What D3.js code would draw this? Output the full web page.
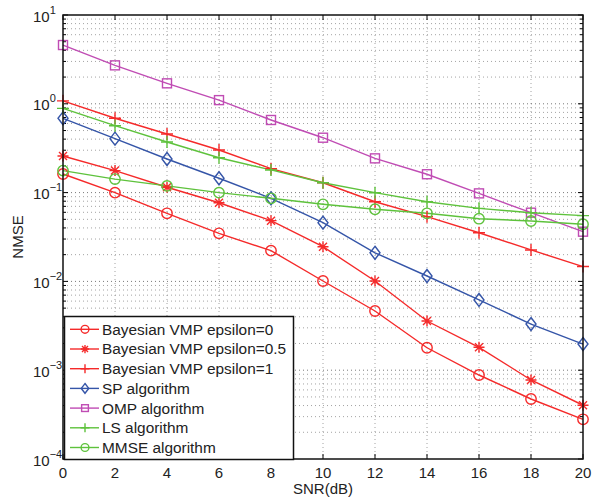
<!DOCTYPE html>
<html><head><meta charset="utf-8">
<script src="https://cdn.jsdelivr.net/npm/d3@7"></script>
<style>body{margin:0;background:#fff}svg{display:block;font-family:"Liberation Sans",Arial,sans-serif}</style>
</head><body><svg id="c" width="599" height="497"></svg>
<script>
const snr = [0,2,4,6,8,10,12,14,16,18,20];
const xTicks = [0,2,4,6,8,10,12,14,16,18,20];
const yDecades = [-4,-3,-2,-1,0,1];
const seriesNames = ["Bayesian VMP epsilon=0","Bayesian VMP epsilon=0.5","Bayesian VMP epsilon=1","SP algorithm","OMP algorithm","LS algorithm","MMSE algorithm"];
const vmp0   = [0.162,0.0998,0.0585,0.0348,0.0222,0.0101,0.00464,0.00179,0.000883,0.000474,0.000280];
const vmp05  = [0.258,0.177,0.115,0.0769,0.0483,0.0246,0.0101,0.00358,0.00181,0.000776,0.000403];
const vmp1   = [1.08,0.687,0.457,0.302,0.186,0.129,0.0789,0.0536,0.0353,0.0226,0.0147];
const sp     = [0.687,0.405,0.239,0.145,0.0863,0.0458,0.0210,0.0115,0.00618,0.00331,0.00197];
const omp    = [4.59,2.71,1.70,1.10,0.657,0.415,0.243,0.161,0.098,0.0594,0.0363];
const ls     = [0.889,0.567,0.371,0.247,0.180,0.129,0.0998,0.0789,0.0665,0.0594,0.0550];
const mmse   = [0.177,0.142,0.119,0.0998,0.0863,0.0738,0.0649,0.0585,0.0508,0.0479,0.0440];
const seriesValues = [vmp0,vmp05,vmp1,sp,omp,ls,mmse];
const colors = ["#f52a2a","#f52a2a","#f52a2a","#3555a8","#c04cb4","#5ec23c","#5ec23c"];
const markers = ["circle","asterisk","plus","diamond","square","plus","circle"];

const svg = d3.select("#c");
const L=63,R=583,T=15,B=459;
const x = d3.scaleLinear().domain([0,20]).range([L,R]);
const y = d3.scaleLog().domain([1e-4,10]).range([B,T]);

// grid
const g = svg.append("g");
xTicks.forEach(t=>{ if(t>0&&t<20) g.append("line").attr("x1",x(t)).attr("x2",x(t)).attr("y1",T).attr("y2",B)
  .attr("stroke","#8c8c8c").attr("stroke-width",0.8).attr("stroke-dasharray","1,3"); });
const minorVals=[];
for(let d=-4; d<1; d++){ for(let k=1;k<10;k++){ const v=k*Math.pow(10,d); minorVals.push({v,major:k===1}); } }
minorVals.forEach(o=>{ if(o.v>1e-4) g.append("line").attr("x1",L).attr("x2",R).attr("y1",y(o.v)).attr("y2",y(o.v))
  .attr("stroke",o.major?"#555":"#8c8c8c").attr("stroke-width",0.8).attr("stroke-dasharray","1,3"); });

// ticks
const tk = svg.append("g").attr("stroke","#000").attr("stroke-width",1);
xTicks.forEach(t=>{ tk.append("line").attr("x1",x(t)).attr("x2",x(t)).attr("y1",B).attr("y2",B-5);
  tk.append("line").attr("x1",x(t)).attr("x2",x(t)).attr("y1",T).attr("y2",T+5); });
minorVals.forEach(o=>{ const len=o.major?5:3; const yy=y(o.v);
  tk.append("line").attr("x1",L).attr("x2",L+len).attr("y1",yy).attr("y2",yy);
  tk.append("line").attr("x1",R).attr("x2",R-len).attr("y1",yy).attr("y2",yy); });
tk.append("line").attr("x1",L).attr("x2",L+5).attr("y1",y(10)).attr("y2",y(10));
tk.append("line").attr("x1",R).attr("x2",R-5).attr("y1",y(10)).attr("y2",y(10));

// x tick labels
xTicks.forEach(t=>{ svg.append("text").attr("x",x(t)).attr("y",478).attr("text-anchor","middle")
  .attr("font-size",15).attr("fill","#222").text(t); });
// y tick labels
yDecades.forEach(d=>{ const yy=y(Math.pow(10,d));
  const tx=svg.append("text").attr("x",33).attr("y",yy+6.5).attr("font-size",15).attr("fill","#222");
  tx.append("tspan").text("10");
  tx.append("tspan").attr("dy",-8).attr("font-size",11).text(d<0?"\u2212"+(-d):String(d)); });

// axis labels
svg.append("text").attr("x",(L+R)/2).attr("y",494).attr("text-anchor","middle").attr("font-size",15).attr("fill","#222").text("SNR(dB)");
svg.append("text").attr("transform","translate(23,237) rotate(-90)").attr("text-anchor","middle").attr("font-size",15).attr("fill","#222").text("NMSE");

function drawMarker(sel, type, cx, cy, col, s){
  s = s||1;
  const m = sel.append("g").attr("transform",`translate(${cx},${cy}) scale(${s})`).attr("fill","none").attr("stroke",col).attr("stroke-width",1.4/s);
  if(type==="circle") m.append("circle").attr("r",5.2);
  else if(type==="square") m.append("rect").attr("x",-4.5).attr("y",-4.5).attr("width",9).attr("height",9);
  else if(type==="diamond") m.append("path").attr("d","M0,-6.5L5,0L0,6.5L-5,0Z");
  else if(type==="plus") m.append("path").attr("d","M-6,0H6M0,-6V6");
  else if(type==="asterisk") m.append("path").attr("d","M-5.5,0H5.5M0,-5.5V5.5M-4,-4L4,4M-4,4L4,-4");
}

// lines
const line = d3.line().x((d,i)=>x(snr[i])).y(d=>y(d));
const plot = svg.append("g");
seriesValues.forEach((vals,si)=>{
  plot.append("path").attr("d",line(vals)).attr("fill","none").attr("stroke",colors[si]).attr("stroke-width",1.4);
});
seriesValues.forEach((vals,si)=>{
  vals.forEach((v,i)=>drawMarker(plot,markers[si],x(snr[i]),y(v),colors[si]));
});

// frame
svg.append("rect").attr("x",L).attr("y",T).attr("width",R-L).attr("height",B-T).attr("fill","none").attr("stroke","#111").attr("stroke-width",1.5);

// legend
const lg = svg.append("g");
lg.append("rect").attr("x",64.5).attr("y",316.5).attr("width",229).attr("height",143).attr("fill","#fff").attr("stroke","#111").attr("stroke-width",1.5);
seriesNames.forEach((n,i)=>{
  const yy = 329.3 + i*19.7;
  lg.append("line").attr("x1",70).attr("x2",99).attr("y1",yy).attr("y2",yy).attr("stroke",colors[i]).attr("stroke-width",1.4);
  drawMarker(lg,markers[i],85,yy,colors[i],0.75);
  lg.append("text").attr("x",102).attr("y",yy+5.4).attr("font-size",15.4).attr("fill","#222").text(n);
});
</script></body></html>
